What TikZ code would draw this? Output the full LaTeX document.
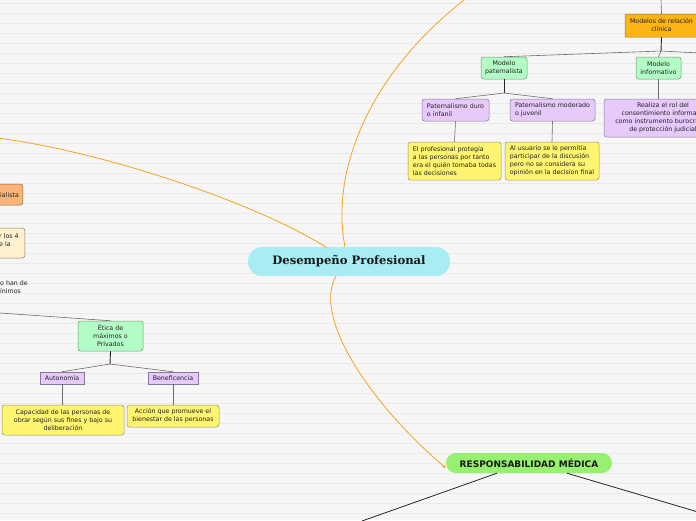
\documentclass[tikz,border=0pt]{standalone}
\usepackage{fontspec}
\usetikzlibrary{arrows.meta}
\newfontfamily\dvsans{DejaVu Sans}
\newfontfamily\dvserif{DejaVu Serif}
\newcommand\smallf{\dvsans\fontsize{6.3}{8}\selectfont}
\definecolor{bg}{HTML}{F6F6F6}
\definecolor{bgline}{HTML}{EAEAEA}
\definecolor{txt}{HTML}{222222}
\definecolor{cyanfill}{HTML}{A8ECF4}
\definecolor{ofill}{HTML}{FDB515}
\definecolor{odraw}{HTML}{A07818}
\definecolor{gfill}{HTML}{B4FCC6}
\definecolor{gdraw}{HTML}{6C9878}
\definecolor{pfill}{HTML}{E6CAFC}
\definecolor{pdraw}{HTML}{887898}
\definecolor{yfill}{HTML}{FFF46F}
\definecolor{ydraw}{HTML}{9A9668}
\definecolor{lofill}{HTML}{FBB477}
\definecolor{lodraw}{HTML}{8A6040}
\definecolor{crfill}{HTML}{FFF1CF}
\definecolor{crdraw}{HTML}{8A7A60}
\definecolor{rgfill}{HTML}{98F070}
\definecolor{curve}{HTML}{F5A31F}
\tikzset{
  mm/.style={rounded corners=2.5pt, line width=0.5pt, inner sep=0pt, font=\smallf, text=txt, align=center},
  greenbox/.style={mm, fill=gfill, draw=gdraw},
  purplebox/.style={mm, fill=pfill, draw=pdraw},
  yellowbox/.style={mm, fill=yfill, draw=ydraw},
  stem/.style={draw=black!85, line width=0.9pt},
  branch/.style={draw=gray!85!black, line width=0.6pt},
  orangecurve/.style={draw=curve, line width=0.8pt},
  bgrule/.style={draw=bgline, line width=0.6pt}
}
\begin{document}
\begin{tikzpicture}[x=1pt,y=-1pt]
\useasboundingbox (0,0) rectangle (696,520);
\clip (0,0) rectangle (696,520);
\fill[bg] (0,0) rectangle (696,520);
\foreach \y in {3,13,...,513} \draw[bgrule] (0,\y) -- (696,\y);

% central
\node[fill=cyanfill, rounded corners=14pt, minimum width=202pt, minimum height=29pt, inner sep=0pt,
      font=\dvserif\bfseries\fontsize{11.6}{13}\selectfont, text=black!90] (central) at (349,261.5) {Desempeño Profesional};

% top right cluster
\node[mm, fill=ofill, draw=odraw, rounded corners=0.5pt, minimum width=73pt, minimum height=23pt] (modelos) at (661.5,25.5) {Modelos de relación\\clínica};
\node[greenbox, minimum width=46pt, minimum height=22pt] (mpat) at (504,68) {Modelo\\paternalista};
\node[greenbox, minimum width=45pt, minimum height=22pt] (minf) at (658.5,68) {Modelo\\informativo};
\node[purplebox, align=left, minimum width=67pt, minimum height=22pt] (pduro) at (455.5,110) {Paternalismo duro\\o infanil};
\node[purplebox, align=left, minimum width=85pt, minimum height=22pt] (pmod) at (552.5,110) {Paternalismo moderado\\o juvenil};
\node[purplebox, minimum width=118pt, minimum height=38pt] (realiza) at (663,118) {Realiza el rol del\\consentimiento informado\\como instrumento burocrático\\de protección judicial};
\node[yellowbox, align=left, minimum width=93pt, minimum height=38pt] (eprof) at (454.5,161) {El profesional protegía\\a las personas por tanto\\era el quién tomaba todas\\las decisiones};
\node[yellowbox, align=left, minimum width=94pt, minimum height=38pt] (ausu) at (552,161) {Al usuario se le permitía\\participar de la discusión\\pero no se considera su\\opinión en la decision final};

\coordinate (topend) at (661,0);
\coordinate (j1) at (661,51);
\coordinate (rightend) at (700,53);
\coordinate (j2) at (504,93);
\draw[branch] (modelos.north) -- (topend);
\draw[stem] (modelos.south) -- (j1);
\draw[branch] (j1) -- (mpat.north);
\draw[branch] (j1) -- (minf.north);
\draw[branch] (j1) -- (rightend);
\draw[stem] (mpat.south) -- (j2);
\draw[branch] (j2) -- (pduro.north);
\draw[branch] (j2) -- (pmod.north);
\draw[branch] (minf.south) -- (minf.south |- realiza.north);
\draw[branch] (pduro.south) -- (eprof.north);
\draw[branch] (pmod.south) -- (ausu.north);

% left cluster
\node[mm, fill=lofill, draw=lodraw, minimum width=40pt, minimum height=21pt, anchor=east] (lista) at (23,194.5) {};
\node[font=\smallf, text=txt, inner sep=0pt, anchor=west] (listatxt) at (0,195) {ialista};
\node[mm, fill=crfill, draw=crdraw, minimum width=40pt, minimum height=30pt, anchor=east] (cream) at (25,243) {};
\node[font=\smallf, text=txt, inner sep=0pt, align=left, anchor=north west] (creamtxt) at (-1,234) {r los 4\\e la};
\node[font=\smallf, text=txt, inner sep=0pt, align=left, anchor=north west] (hande) at (0,281) {o han de\\ínimos};

\node[greenbox, minimum width=65pt, minimum height=30pt] (etica) at (110.5,336) {Ética de\\máximos o\\Privados};
\node[purplebox, rounded corners=0pt, minimum width=44pt, minimum height=12pt] (auto) at (62,378) {Autonomía};
\node[purplebox, rounded corners=0pt, minimum width=50pt, minimum height=12pt] (bene) at (173,378) {Beneficencia};
\node[yellowbox, minimum width=122pt, minimum height=30pt] (capa) at (63,420) {Capacidad de las personas de\\obrar según sus fines y bajo su\\deliberación};
\node[yellowbox, minimum width=92pt, minimum height=22pt] (acci) at (173,416) {Acción que promueve el\\bienestar de las personas};

\coordinate (lend) at (0,313);
\coordinate (j3) at (110,364);
\draw[branch] (lend) -- (etica.north);
\draw[stem] (etica.south) -- (j3);
\draw[branch] (j3) -- (auto.north);
\draw[branch] (j3) -- (bene.north);
\draw[branch] (auto.south) -- (auto.south |- capa.north);
\draw[branch] (bene.south) -- (acci.north);

% responsabilidad
\node[fill=rgfill, rounded corners=10pt, minimum width=166pt, minimum height=20pt, inner sep=0pt,
      font=\dvsans\bfseries\fontsize{9}{10}\selectfont, text=black!90] (resp) at (529,463) {RESPONSABILIDAD MÉDICA};
\coordinate (rl) at (362,521);
\coordinate (rr) at (698,512);
\draw[draw=black!85, line width=0.8pt] ([xshift=-32pt]resp.south) -- (rl);
\draw[draw=black!85, line width=0.8pt] ([xshift=38pt]resp.south) -- (rr);

% orange curves
\coordinate (leftcurveend) at (-2,138);
\coordinate (topcurveend) at (472,-6);
\draw[orangecurve] ([xshift=-22pt,yshift=-1pt]central.north) .. controls (260,205) and (110,153) .. (leftcurveend);
\draw[orangecurve] ([xshift=-4pt]central.north) .. controls (330,170) and (370,70) .. (topcurveend);
\draw[orangecurve, -{Stealth[length=4pt,width=3.5pt]}] ([xshift=-13pt]central.south) .. controls (312,318) and (372,405) .. ([yshift=-5pt]resp.west);
\end{tikzpicture}
\end{document}
